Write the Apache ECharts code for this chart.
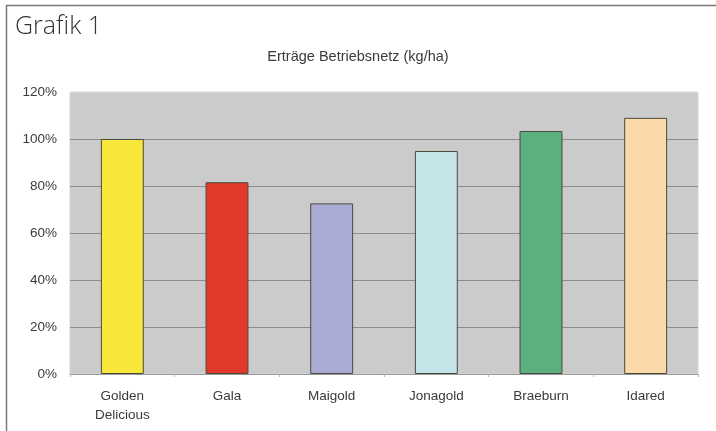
<!DOCTYPE html>
<html><head><meta charset="utf-8">
<script src="https://cdn.jsdelivr.net/npm/echarts@6/dist/echarts.min.js"></script>
<style>html,body{margin:0;padding:0;background:#fff;}#c{width:716px;height:431px;}</style>
</head><body><div id="c"></div>
<script>
const categories = ['Golden\nDelicious', 'Gala', 'Maigold', 'Jonagold', 'Braeburn', 'Idared'];
const values = [100, 81.6, 72.6, 94.9, 103.4, 109];
const barColors = ['#f8e63a', '#e23a2a', '#a9abd4', '#c4e4e7', '#5bb07f', '#fbd9a8'];
const yTicks = { min: 0, max: 120, interval: 20 };
const chartTitle = 'Erträge Betriebsnetz (kg/ha)';
const panelTitle = 'Grafik 1';

const chart = echarts.init(document.getElementById('c'), null, { renderer: 'canvas' });
chart.setOption({
  animation: false,
  backgroundColor: '#fff',
  title: {
    text: chartTitle, left: 'center', top: 44,
    textStyle: { fontFamily: 'Liberation Sans', fontSize: 14.5, fontWeight: 'normal', color: '#3a3a3a' }
  },
  graphic: [
    { type: 'polyline', shape: { points: [[6.5, 431], [6.5, 5.5], [716, 5.5]] }, style: { fill: 'none', stroke: '#7a7a7a', lineWidth: 1.5 }, z: 100 },
    { type: 'text', left: 15, top: 14, style: { text: panelTitle, font: '300 25px "Open Sans", "Noto Sans", sans-serif', fill: '#333' } }
  ],
  grid: { left: 70, right: 18, top: 92, bottom: 57, show: true, backgroundColor: '#cbcbcb', borderWidth: 1, borderColor: '#d6d6d6' },
  xAxis: {
    type: 'category', data: categories,
    axisLine: { lineStyle: { color: '#999', width: 1 } },
    axisTick: { show: true, length: 3, lineStyle: { color: '#b5b5b5' } },
    axisLabel: { fontFamily: 'Liberation Sans', fontSize: 13.5, color: '#3a3a3a', margin: 13, lineHeight: 19 }
  },
  yAxis: {
    type: 'value', min: yTicks.min, max: yTicks.max, interval: yTicks.interval,
    axisLabel: { formatter: '{value}%', fontFamily: 'Liberation Sans', fontSize: 13.5, color: '#3a3a3a', margin: 13 },
    axisLine: { show: false }, axisTick: { show: false },
    splitLine: { lineStyle: { color: ['#999', '#8c8c8c', '#8c8c8c', '#8c8c8c', '#8c8c8c', '#8c8c8c', '#d6d6d6'], width: 1 } }
  },
  series: [{
    type: 'bar', barWidth: '41%',
    data: values.map((v, i) => ({ value: v, itemStyle: { color: barColors[i] } })),
    itemStyle: { borderColor: '#4a4a3a', borderWidth: 1 }
  }]
});
</script></body></html>
